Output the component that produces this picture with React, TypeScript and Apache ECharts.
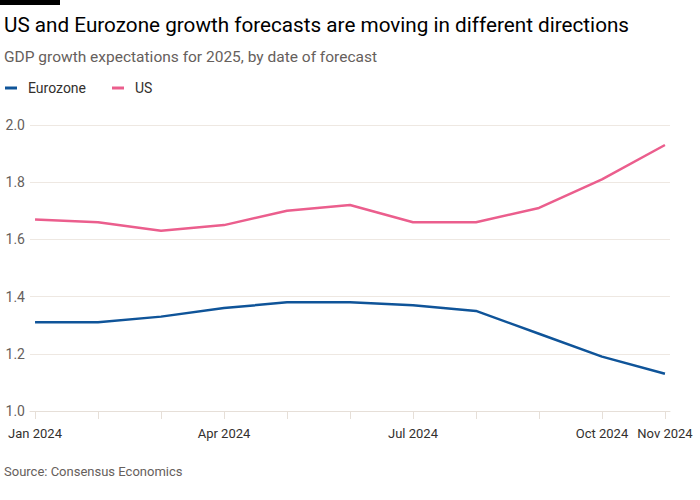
import React, { useEffect, useRef } from "react";
import * as echarts from "echarts";

const months = ["Jan 2024", "Feb 2024", "Mar 2024", "Apr 2024", "May 2024", "Jun 2024", "Jul 2024", "Aug 2024", "Sep 2024", "Oct 2024", "Nov 2024"];
const eurozone = [1.31, 1.31, 1.33, 1.36, 1.38, 1.38, 1.37, 1.35, 1.27, 1.19, 1.13];
const us = [1.67, 1.66, 1.63, 1.65, 1.70, 1.72, 1.66, 1.66, 1.71, 1.81, 1.93];
const labelIdx = [0, 3, 6, 9, 10];

const FONT = "Roboto";
const GREY = "#66605c";
const DARK = "#33302e";

export default function App() {
  const ref = useRef<HTMLDivElement>(null);
  useEffect(() => {
    const chart = echarts.init(ref.current!, undefined, { renderer: "svg" });
    chart.setOption({
      animation: false,
      backgroundColor: "#ffffff",
      textStyle: { fontFamily: FONT },
      title: [
        { text: "US and Eurozone growth forecasts are moving in different directions", left: -1, top: 9, textStyle: { fontFamily: FONT, fontSize: 20.7, fontWeight: "normal", color: "#000000" } },
        { text: "GDP growth expectations for 2025, by date of forecast", left: -1, top: 44, textStyle: { fontFamily: FONT, fontSize: 15.5, fontWeight: "normal", color: GREY } },
        { text: "Source: Consensus Economics", left: -1, top: 460, textStyle: { fontFamily: FONT, fontSize: 13, fontWeight: "normal", color: GREY } },
      ],
      graphic: [{ type: "rect", left: 0, top: 0, shape: { width: 60, height: 5 }, style: { fill: "#000000" } }],
      legend: {
        left: 0, top: 76, icon: "rect", itemWidth: 12, itemHeight: 3, itemGap: 26,
        textStyle: { fontFamily: FONT, fontSize: 14, color: DARK, padding: [0, 0, 0, 6] },
        data: ["Eurozone", "US"],
      },
      grid: { left: 30, right: 30, top: 125, bottom: 89 },
      xAxis: {
        type: "value", min: -0.08, max: 10.08,
        axisLine: { show: true, lineStyle: { color: "#e6dfd8", width: 1 } },
        axisTick: { show: true, length: 8, lineStyle: { color: "#e6dfd8" }, customValues: months.map((_, i) => i) },
        axisLabel: {
          customValues: labelIdx, margin: 16, fontFamily: FONT, fontSize: 13, color: DARK,
          formatter: (v: number) => months[Math.round(v)],
        },
        splitLine: { show: false },
      },
      yAxis: {
        type: "value", min: 1, max: 2, interval: 0.2,
        axisLine: { show: false }, axisTick: { show: false },
        axisLabel: { margin: 5, fontFamily: FONT, fontSize: 14, color: GREY, formatter: (v: number) => v.toFixed(1) },
        splitLine: { lineStyle: { color: "#eee8e2", width: 1 } },
      },
      series: [
        { name: "Eurozone", type: "line", data: eurozone.map((v, i) => [i, v]), showSymbol: false, lineStyle: { color: "#0f5499", width: 2.5, join: "round" }, itemStyle: { color: "#0f5499" } },
        { name: "US", type: "line", data: us.map((v, i) => [i, v]), showSymbol: false, lineStyle: { color: "#eb5e8d", width: 2.5, join: "round" }, itemStyle: { color: "#eb5e8d" } },
      ],
    });
    return () => chart.dispose();
  }, []);
  return <div ref={ref} style={{ position: "fixed", left: 0, top: 0, width: 700, height: 500 }} />;
}
